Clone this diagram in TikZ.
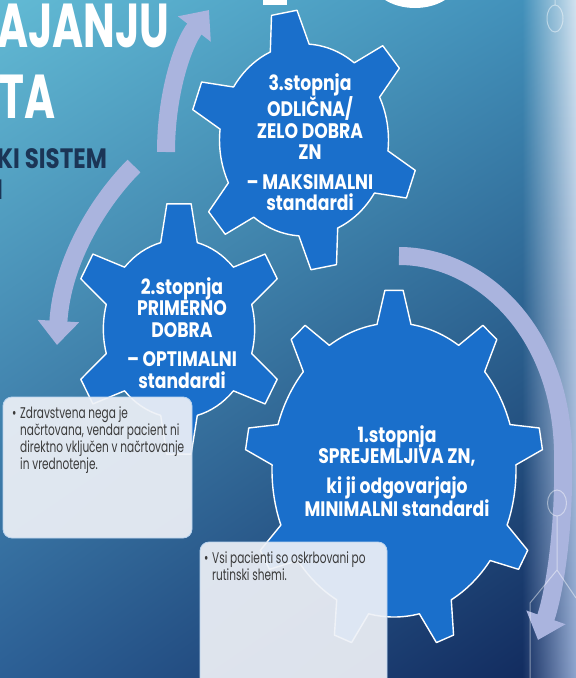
\documentclass[tikz,border=0pt]{standalone}
\usepackage{fontspec}
\setmainfont{Poppins}[FakeStretch=0.72]
\newfontfamily\titlefont{Poppins}[FakeStretch=0.68]
\newfontfamily\gearfont{Poppins}[FakeStretch=0.82]
\newfontfamily\notefont{Poppins}[FakeStretch=0.68]
\usetikzlibrary{arrows.meta,fadings,shadings}

\definecolor{bgtl}{HTML}{62BAD4}
\definecolor{bgtr}{HTML}{3F8DB8}
\definecolor{bgbl}{HTML}{2C5F95}
\definecolor{bgbr}{HTML}{10275A}
\definecolor{stripT}{HTML}{D2E3F0}
\definecolor{stripB}{HTML}{8FA6CF}
\definecolor{gearblue}{HTML}{1A6FCB}
\definecolor{arrowlav}{HTML}{AAB4DE}
\definecolor{navytxt}{HTML}{1B3556}
\definecolor{boxfill}{HTML}{EEF1F7}
\definecolor{boxtxt}{HTML}{3A3A3A}

\tikzfading[name=fade right, left color=transparent!100, right color=transparent!0]

\tikzset{
  gearbody/.style={fill=gearblue, draw=white, line width=1.4pt, line join=round},
  geartxt/.style={text=white, font=\gearfont\bfseries\fontsize{21}{21.5}\selectfont, align=center, inner sep=0pt, anchor=north},
  titletxt/.style={text=white, font=\titlefont\bfseries\fontsize{62}{62}\selectfont, inner sep=0pt},
  subtxt/.style={text=navytxt, font=\gearfont\bfseries\fontsize{28}{28}\selectfont, inner sep=0pt},
  notebox/.style={fill=boxfill, fill opacity=.92, draw=white!70!gearblue, line width=.8pt, rounded corners=9pt},
  notetxt/.style={text=boxtxt, font=\notefont\fontsize{15.5}{17}\selectfont, align=left, inner sep=0pt},
  cyclearrow/.style={draw=arrowlav, line width=18pt, -{Triangle[width=40pt,length=24pt]}},
  circuit/.style={draw=white, draw opacity=.45, line width=1pt},
}

% gear outline: centre, x scale, teeth, first tooth angle, body radius,
% tip radius, half angle at the base, half angle at the tip
\newcommand\gear[8]{%
  \begin{scope}[shift={#1},xscale=#2]
    \pgfmathsetmacro\gstep{360/#3}
    \path[gearbody] ({#4+#7}:#5)
      \foreach \i in {1,...,#3}{
        arc[start angle={#4+(\i-1)*\gstep+#7}, end angle={#4+\i*\gstep-#7}, radius=#5]
        -- ({#4+\i*\gstep-#8}:#6) -- ({#4+\i*\gstep+#8}:#6) -- ({#4+\i*\gstep+#7}:#5)
      } -- cycle;
  \end{scope}}

\begin{document}
\begin{tikzpicture}[x=1pt,y=1pt]
\useasboundingbox (0,0) rectangle (576,-678);
\clip (0,0) rectangle (576,-678);

% background
\shade[upper left=bgtl, upper right=bgtr, lower left=bgbl, lower right=bgbr] (0,0) rectangle (576,-678);
\shade[top color=stripT, bottom color=stripB, path fading=fade right] (522,0) rectangle (576,-678);

% title
\node[titletxt, anchor=base west] (ttl1) at (-3,-47) {AJANJU};
\node[titletxt, anchor=base west] (ttl2) at (-1,-118) {TA};
\node[subtxt, anchor=base west] (ttl3) at (-3,-168) {KI SISTEM};
\node[subtxt, anchor=base east] (ttl4) at (3,-199) {I};
\fill[white] (263,0) rectangle (287,-5);
\fill[white] (415,22) ellipse[x radius=44, y radius=30];

% cycle arrows
\coordinate (a1s) at (166,-152);
\coordinate (a1e) at (209,-10);
\coordinate (a2s) at (134,-166);
\coordinate (a2e) at (57,-345);
\coordinate (a3s) at (399,-256);
\coordinate (a3m) at (563,-450);
\coordinate (a3e) at (538,-640);
\draw[cyclearrow] (a1s) .. controls (166,-95) and (182,-45) .. (a1e);
\draw[cyclearrow] (a2s) .. controls (100,-200) and (62,-260) .. (a2e);
\draw[cyclearrow] (a3s) .. controls (480,-256) and (560,-330) .. (a3m)
  .. controls (565,-540) and (552,-600) .. (a3e);

% circuit marks
\draw[circuit] (555,0) -- (555,-5) (555,-18.5) ellipse[x radius=8, y radius=13.5];
\draw[circuit] (557,-503) ellipse[x radius=9.5, y radius=13] (557,-516) -- (557,-570) -- (530,-603) -- (530,-678)
  (557,-570) -- (576,-598);

% gears
\gear{(179,-329)}{.85}{6}{90}{89}{126}{14}{6.5}
\gear{(304,-140)}{.88}{6}{100}{96}{130}{13.5}{6.5}
\gear{(394,-470)}{.83}{9}{90}{147}{180}{8}{3.5}

\node[geartxt] (lvl3) at (310,-73) {3.stopnja\\ODLIČNA/\\ZELO DOBRA\\ZN\\[8pt]– MAKSIMALNI\\standardi};
\node[geartxt] (lvl2) at (182,-277) {2.stopnja\\PRIMERNO\\DOBRA\\[8pt]– OPTIMALNI\\standardi};
\node[geartxt] (lvl1) at (397,-425) {1.stopnja\\SPREJEMLJIVA ZN,\\[8pt]ki ji odgovarjajo\\MINIMALNI standardi};

% notes
\path[notebox] (3,-397) rectangle (192,-538);
\node[notetxt, anchor=base west] (dot1) at (12,-418) {•};
\node[notetxt, anchor=north west] (note1) at (20,-406) {Zdravstvena nega je\\načrtovana, vendar pacient ni\\direktno vključen v načrtovanje\\in vrednotenje.};
\path[notebox] (200,-542) rectangle (387,-690);
\node[notetxt, anchor=base west] (dot2) at (204,-563) {•};
\node[notetxt, anchor=north west] (note2) at (212,-551) {Vsi pacienti so oskrbovani po\\rutinski shemi.};
\end{tikzpicture}
\end{document}
